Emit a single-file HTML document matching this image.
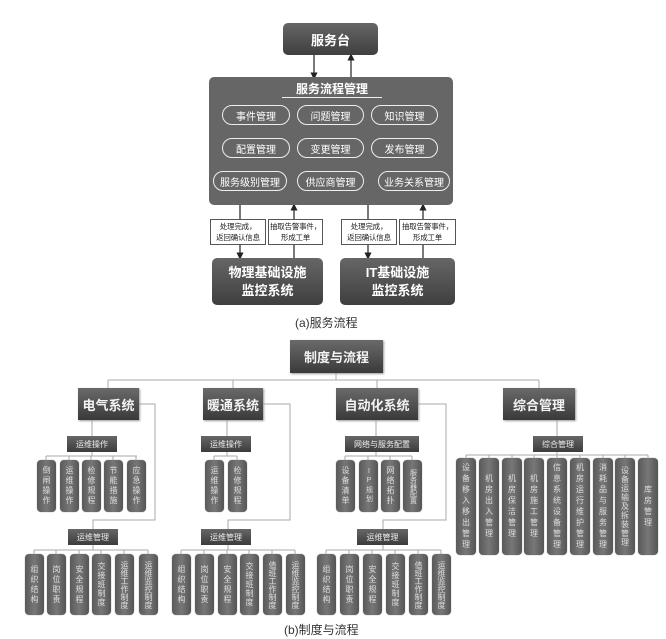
<!DOCTYPE html>
<html><head><meta charset="utf-8"><style>
body{margin:0;background:#fff;}
#c{position:relative;width:666px;height:639px;overflow:hidden;font-family:"Liberation Sans","Noto Sans CJK SC",sans-serif;}
.b{position:absolute;display:flex;align-items:center;justify-content:center;color:#fff;box-sizing:border-box;text-align:center;}
.d{background:linear-gradient(#666,#3f3f3f);border-radius:5px;}
.p{border:1.5px solid #eee;border-radius:10px;font-size:10px;color:#fff;}
.l{background:#fff;border:1px solid #555;color:#222;font-size:7.5px;line-height:11px;white-space:nowrap;letter-spacing:-0.2px;}
.h{background:linear-gradient(#6a6a6a,#3a3a3a);font-size:13px;font-weight:bold;color:#f4f4f4;box-shadow:1px 1px 2px #999;}
.s{background:linear-gradient(#666,#3c3c3c);font-size:8px;color:#eee;}
.v{background:linear-gradient(90deg,#5a5a5a,#777 50%,#555);border-radius:4px;color:#ddd;font-size:8px;writing-mode:vertical-rl;text-orientation:upright;letter-spacing:2px;box-shadow:0 0 1px #888;}
.cap{position:absolute;font-size:12px;color:#333;}
</style></head><body><div id="c">
<svg width="666" height="639" style="position:absolute;left:0;top:0">
<defs><marker id="a" markerWidth="6" markerHeight="6" refX="3" refY="3" orient="auto"><path d="M0,0L6,3L0,6z" fill="#222"/></marker></defs>
<g stroke="#222" stroke-width="1.2" fill="none">
<line x1="314" y1="55" x2="314" y2="76" marker-end="url(#a)"/>
<line x1="351" y1="77" x2="351" y2="57" marker-end="url(#a)"/>
<line x1="240" y1="205" x2="240" y2="256" marker-end="url(#a)"/>
<line x1="294" y1="258" x2="294" y2="207" marker-end="url(#a)"/>
<line x1="368" y1="205" x2="368" y2="256" marker-end="url(#a)"/>
<line x1="423" y1="258" x2="423" y2="207" marker-end="url(#a)"/>
</g>
<g stroke="#aaa" stroke-width="1" fill="none">
<path d="M336 373V380M108 380H539M108 380V388M233 380V388M377 380V388M539 380V388"/>
<path d="M92 420V436M92 452V456M46 456H137M46 456V460M69 456V460M91 456V460M113 456V460M136 456V460"/>
<path d="M139 404H155V520H93V529M93 545V550M34 550H148M34 550V554M56 550V554M79 550V554M101 550V554M124 550V554M148 550V554"/>
<path d="M227 420V436M227 452V456M214 456H237M214 456V460M237 456V460"/>
<path d="M263 404H290V520H228V529M228 545V550M181 550H295M181 550V554M204 550V554M227 550V554M249 550V554M272 550V554M295 550V554"/>
<path d="M376 420V436M376 452V456M345 456H412M345 456V460M368 456V460M390 456V460M412 456V460"/>
<path d="M418 404H446V520H383V529M383 545V550M326 550H441M326 550V554M349 550V554M372 550V554M395 550V554M418 550V554M441 550V554"/>
<path d="M557 420V436M557 452V455M466 455H648M466 455V458M489 455V458M512 455V458M534 455V458M557 455V458M580 455V458M603 455V458M625 455V458M648 455V458"/>
</g>
</svg>
<div class="b d" style="left:283px;top:23px;width:95px;height:32px;font-size:13px;font-weight:bold">服务台</div>
<div class="b d" style="left:209px;top:77px;width:244px;height:128px;background:#666"></div>
<div class="b" style="left:282px;top:80px;width:100px;height:18px;font-size:12px;font-weight:bold;border-bottom:1px solid #eee">服务流程管理</div>
<div class="b p" style="left:222px;top:105px;width:68px;height:20px">事件管理</div>
<div class="b p" style="left:297px;top:105px;width:67px;height:20px">问题管理</div>
<div class="b p" style="left:371px;top:105px;width:67px;height:20px">知识管理</div>
<div class="b p" style="left:222px;top:138px;width:68px;height:20px">配置管理</div>
<div class="b p" style="left:297px;top:138px;width:67px;height:20px">变更管理</div>
<div class="b p" style="left:371px;top:138px;width:67px;height:20px">发布管理</div>
<div class="b p" style="left:213px;top:171px;width:74px;height:20px">服务级别管理</div>
<div class="b p" style="left:297px;top:171px;width:67px;height:20px">供应商管理</div>
<div class="b p" style="left:378px;top:171px;width:72px;height:20px">业务关系管理</div>
<div class="b l" style="left:210px;top:219px;width:56px;height:26px">处理完成，<br>返回确认信息</div>
<div class="b l" style="left:268px;top:219px;width:55px;height:26px">抽取告警事件，<br>形成工单</div>
<div class="b l" style="left:341px;top:219px;width:56px;height:26px">处理完成，<br>返回确认信息</div>
<div class="b l" style="left:399px;top:219px;width:57px;height:26px">抽取告警事件，<br>形成工单</div>
<div class="b d" style="left:212px;top:258px;width:111px;height:47px;font-size:13px;font-weight:bold;line-height:18px">物理基础设施<br>监控系统</div>
<div class="b d" style="left:340px;top:258px;width:115px;height:47px;font-size:13px;font-weight:bold;line-height:18px">IT基础设施<br>监控系统</div>
<div class="cap" style="left:295px;top:314px">(a)服务流程</div>

<div class="b h" style="left:290px;top:340px;width:93px;height:33px">制度与流程</div>
<div class="b h" style="left:78px;top:388px;width:61px;height:32px">电气系统</div>
<div class="b h" style="left:203px;top:388px;width:60px;height:32px">暖通系统</div>
<div class="b h" style="left:336px;top:388px;width:82px;height:32px">自动化系统</div>
<div class="b h" style="left:503px;top:388px;width:72px;height:32px">综合管理</div>

<div class="b s" style="left:67px;top:436px;width:50px;height:16px">运维操作</div>
<div class="b s" style="left:201px;top:436px;width:50px;height:16px">运维操作</div>
<div class="b s" style="left:345px;top:436px;width:74px;height:16px">网络与服务配置</div>
<div class="b s" style="left:533px;top:436px;width:50px;height:16px">综合管理</div>
<div class="b s" style="left:68px;top:529px;width:50px;height:16px">运维管理</div>
<div class="b s" style="left:201px;top:529px;width:50px;height:16px">运维管理</div>
<div class="b s" style="left:357px;top:529px;width:51px;height:16px">运维管理</div>

<div class="b v" style="left:37px;top:460px;width:19px;height:52px">倒闸操作</div>
<div class="b v" style="left:60px;top:460px;width:19px;height:52px">运维操作</div>
<div class="b v" style="left:82px;top:460px;width:19px;height:52px">检修规程</div>
<div class="b v" style="left:104px;top:460px;width:19px;height:52px">节能措施</div>
<div class="b v" style="left:127px;top:460px;width:19px;height:52px">应急操作</div>
<div class="b v" style="left:205px;top:460px;width:19px;height:52px">运维操作</div>
<div class="b v" style="left:228px;top:460px;width:19px;height:52px">检修规程</div>
<div class="b v" style="left:336px;top:460px;width:19px;height:52px">设备清单</div>
<div class="b v" style="left:359px;top:460px;width:19px;height:52px;font-size:7px">IP规划</div>
<div class="b v" style="left:381px;top:460px;width:19px;height:52px">网络拓扑</div>
<div class="b v" style="left:403px;top:460px;width:19px;height:52px;font-size:7px;letter-spacing:0">服务器配置</div>

<div class="b v" style="left:25px;top:554px;width:19px;height:61px">组织结构</div>
<div class="b v" style="left:47px;top:554px;width:19px;height:61px">岗位职责</div>
<div class="b v" style="left:70px;top:554px;width:19px;height:61px">安全规程</div>
<div class="b v" style="left:92px;top:554px;width:19px;height:61px;letter-spacing:1px">交接班制度</div>
<div class="b v" style="left:115px;top:554px;width:19px;height:61px;letter-spacing:0">运维工作制度</div>
<div class="b v" style="left:139px;top:554px;width:19px;height:61px;letter-spacing:0">运维监控制度</div>
<div class="b v" style="left:172px;top:554px;width:19px;height:61px">组织结构</div>
<div class="b v" style="left:195px;top:554px;width:19px;height:61px">岗位职责</div>
<div class="b v" style="left:218px;top:554px;width:19px;height:61px">安全规程</div>
<div class="b v" style="left:240px;top:554px;width:19px;height:61px;letter-spacing:1px">交接班制度</div>
<div class="b v" style="left:263px;top:554px;width:19px;height:61px;letter-spacing:0">值班工作制度</div>
<div class="b v" style="left:286px;top:554px;width:19px;height:61px;letter-spacing:0">运维监控制度</div>
<div class="b v" style="left:317px;top:554px;width:19px;height:61px">组织结构</div>
<div class="b v" style="left:340px;top:554px;width:19px;height:61px">岗位职责</div>
<div class="b v" style="left:363px;top:554px;width:19px;height:61px">安全规程</div>
<div class="b v" style="left:386px;top:554px;width:19px;height:61px;letter-spacing:1px">交接班制度</div>
<div class="b v" style="left:409px;top:554px;width:19px;height:61px;letter-spacing:0">值班工作制度</div>
<div class="b v" style="left:432px;top:554px;width:19px;height:61px;letter-spacing:0">运维监控制度</div>

<div class="b v" style="left:456px;top:458px;width:20px;height:97px;letter-spacing:3px">设备移入移出管理</div>
<div class="b v" style="left:479px;top:458px;width:20px;height:97px;letter-spacing:3px">机房出入管理</div>
<div class="b v" style="left:502px;top:458px;width:20px;height:97px;letter-spacing:3px">机房保洁管理</div>
<div class="b v" style="left:524px;top:458px;width:20px;height:97px;letter-spacing:3px">机房施工管理</div>
<div class="b v" style="left:547px;top:458px;width:20px;height:97px;letter-spacing:3px">信息系统设备管理</div>
<div class="b v" style="left:570px;top:458px;width:20px;height:97px;letter-spacing:3px">机房运行维护管理</div>
<div class="b v" style="left:593px;top:458px;width:20px;height:97px;letter-spacing:3px">消耗品与服务管理</div>
<div class="b v" style="left:615px;top:458px;width:20px;height:97px;letter-spacing:1px">设备运输及拆装管理</div>
<div class="b v" style="left:638px;top:458px;width:20px;height:97px;letter-spacing:3px">库房管理</div>
<div class="cap" style="left:284px;top:621px">(b)制度与流程</div>
</div></body></html>
